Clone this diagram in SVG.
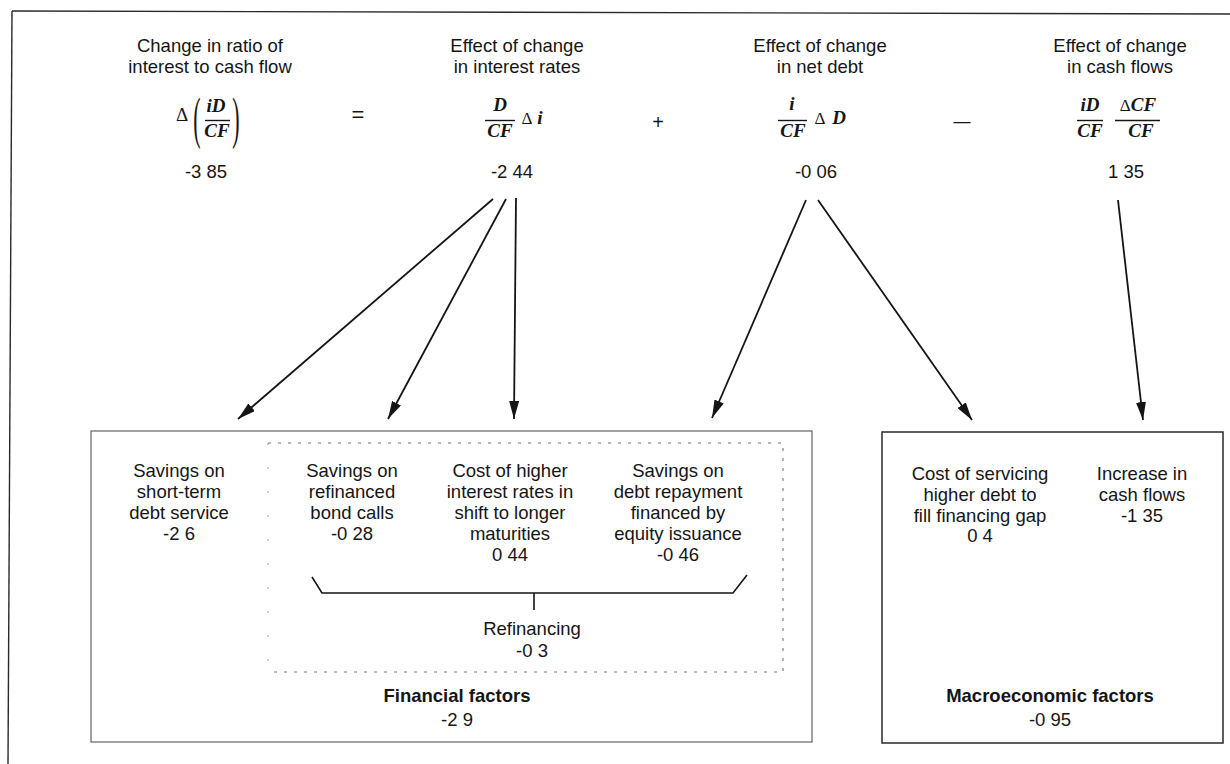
<svg xmlns="http://www.w3.org/2000/svg" width="1230" height="764" viewBox="0 0 1230 764">
<style>
 .t{font-family:"Liberation Sans",Arial,sans-serif;font-size:18.5px;fill:#151515;text-anchor:middle}
 .b{font-weight:bold}
 .m{font-family:"Liberation Serif","Times New Roman",serif;font-size:19px;font-weight:bold;font-style:italic;fill:#151515;text-anchor:middle}
 .g{font-family:"Liberation Serif","Times New Roman",serif;font-size:17px;fill:#151515;text-anchor:middle}
 .p{font-family:"Liberation Serif","Times New Roman",serif;font-size:22px;fill:#151515;text-anchor:middle}
 .op{font-family:"Liberation Sans",Arial,sans-serif;fill:#151515;text-anchor:middle}
 .bar{stroke:#151515;stroke-width:1.4}
 .con{stroke:#151515;stroke-width:1.8;fill:none;marker-end:url(#ah)}
 .frame{stroke:#2a2a2a;stroke-width:1.4;fill:none}
 .fin{stroke:#555;stroke-width:1.1;fill:none}
 .mac{stroke:#2a2a2a;stroke-width:1.5;fill:none}
 .ref{stroke:#777;stroke-width:1.1;fill:none;stroke-dasharray:3 7}
 .brk{stroke:#151515;stroke-width:1.6;fill:none}
</style>
<defs>
 <marker id="ah" viewBox="0 0 18 10" refX="18" refY="5" markerWidth="18" markerHeight="10" markerUnits="userSpaceOnUse" orient="auto">
  <path d="M0,0 L18,5 L0,10 z" fill="#151515"/>
 </marker>
</defs>
<rect width="1230" height="764" fill="#fff"/>

<g id="frame">
 <line class="frame" x1="12" y1="11" x2="1230" y2="14"/>
 <line class="frame" x1="12" y1="11" x2="8" y2="764"/>
</g>

<g id="ratio">
 <text class="t" x="210" y="52">Change in ratio of</text>
 <text class="t" x="210" y="73">interest to cash flow</text>
 <text class="g" x="182" y="121" style="font-size:19px">Δ</text>
 <text class="p" transform="translate(197 0) scale(1 2.6)" x="0" y="52.7">(</text>
 <text class="m" x="216" y="112">iD</text>
 <line class="bar" x1="205" y1="120.5" x2="230" y2="120.5"/>
 <text class="m" x="217" y="137">CF</text>
 <text class="p" transform="translate(236 0) scale(1 2.6)" x="0" y="52.7">)</text>
 <text class="t" x="206" y="178">-3 85</text>
</g>

<g id="ops">
 <text class="op" x="358" y="122" style="font-size:22px">=</text>
 <text class="op" x="658" y="129" style="font-size:20px">+</text>
 <text class="op" x="962" y="127" style="font-size:17px">—</text>
</g>

<g id="rates">
 <text class="t" x="517" y="52">Effect of change</text>
 <text class="t" x="517" y="73">in interest rates</text>
 <text class="m" x="500" y="111">D</text>
 <line class="bar" x1="485" y1="120.5" x2="515" y2="120.5"/>
 <text class="m" x="500" y="137">CF</text>
 <text class="g" x="527" y="124">Δ</text>
 <text class="m" x="540" y="124">i</text>
 <text class="t" x="512" y="178">-2 44</text>
</g>

<g id="netdebt">
 <text class="t" x="820" y="52">Effect of change</text>
 <text class="t" x="820" y="73">in net debt</text>
 <text class="m" x="792" y="110">i</text>
 <line class="bar" x1="778" y1="120.5" x2="807" y2="120.5"/>
 <text class="m" x="793" y="137">CF</text>
 <text class="g" x="820" y="124">Δ</text>
 <text class="m" x="839" y="124">D</text>
 <text class="t" x="816" y="178">-0 06</text>
</g>

<g id="cashflows">
 <text class="t" x="1120" y="52">Effect of change</text>
 <text class="t" x="1120" y="73">in cash flows</text>
 <text class="m" x="1090" y="111">iD</text>
 <line class="bar" x1="1077" y1="120.5" x2="1103" y2="120.5"/>
 <text class="m" x="1090" y="137">CF</text>
 <text class="m" x="1138" y="111"><tspan style="font-style:normal;font-weight:normal;font-size:17px">Δ</tspan>CF</text>
 <line class="bar" x1="1115" y1="120.5" x2="1160" y2="120.5"/>
 <text class="m" x="1141" y="137">CF</text>
 <text class="t" x="1126" y="178">1 35</text>
</g>

<g id="financial">
 <rect class="fin" x="91" y="431" width="721" height="311"/>
 <text class="t b" x="457" y="702">Financial factors</text>
 <text class="t" x="457" y="726">-2 9</text>
</g>

<g id="refinancing">
 <path class="ref" d="M268,443 H783 V672 H268"/>
 <line x1="268" y1="443" x2="268" y2="672" stroke="#999" stroke-width="1" stroke-dasharray="2 22"/>
 <path class="brk" d="M312,577 L322,593 H733 L747,575"/>
 <line class="brk" x1="534" y1="593" x2="534" y2="610"/>
 <text class="t" x="532" y="635">Refinancing</text>
 <text class="t" x="532" y="657">-0 3</text>
</g>

<g id="shortterm">
 <text class="t" x="179" y="477">Savings on</text>
 <text class="t" x="179" y="498">short-term</text>
 <text class="t" x="179" y="519">debt service</text>
 <text class="t" x="179" y="540">-2 6</text>
</g>

<g id="bondcalls">
 <text class="t" x="352" y="477">Savings on</text>
 <text class="t" x="352" y="498">refinanced</text>
 <text class="t" x="352" y="519">bond calls</text>
 <text class="t" x="352" y="540">-0 28</text>
</g>

<g id="maturities">
 <text class="t" x="510" y="477">Cost of higher</text>
 <text class="t" x="510" y="498">interest rates in</text>
 <text class="t" x="510" y="519">shift to longer</text>
 <text class="t" x="510" y="540">maturities</text>
 <text class="t" x="510" y="561">0 44</text>
</g>

<g id="equity">
 <text class="t" x="678" y="477">Savings on</text>
 <text class="t" x="678" y="498">debt repayment</text>
 <text class="t" x="678" y="519">financed by</text>
 <text class="t" x="678" y="540">equity issuance</text>
 <text class="t" x="678" y="561">-0 46</text>
</g>

<g id="macro">
 <rect class="mac" x="882" y="432" width="341" height="311"/>
 <text class="t b" x="1050" y="702">Macroeconomic factors</text>
 <text class="t" x="1050" y="726">-0 95</text>
</g>

<g id="gap">
 <text class="t" x="980" y="480">Cost of servicing</text>
 <text class="t" x="980" y="501">higher debt to</text>
 <text class="t" x="980" y="522">fill financing gap</text>
 <text class="t" x="980" y="542">0 4</text>
</g>

<g id="increase">
 <text class="t" x="1142" y="480">Increase in</text>
 <text class="t" x="1142" y="501">cash flows</text>
 <text class="t" x="1142" y="522">-1 35</text>
</g>

<g id="connectors">
 <line class="con" x1="493" y1="199" x2="238" y2="419"/>
 <line class="con" x1="506" y1="199" x2="388" y2="419"/>
 <line class="con" x1="516" y1="198" x2="514" y2="419"/>
 <line class="con" x1="806" y1="200" x2="712" y2="418"/>
 <line class="con" x1="818" y1="200" x2="972" y2="420"/>
 <line class="con" x1="1118" y1="200" x2="1143" y2="420"/>
</g>
</svg>
